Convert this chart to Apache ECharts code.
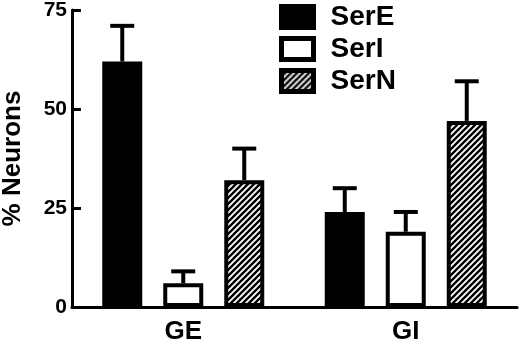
<!DOCTYPE html>
<html>
<head>
<meta charset="utf-8">
<script src="https://cdn.jsdelivr.net/npm/echarts@6/dist/echarts.min.js"></script>
<style>
html,body{margin:0;padding:0;background:#fff;}
#chart{width:520px;height:343px;}
</style>
</head>
<body>
<div id="chart"></div>
<script>
const categories = ['GE', 'GI'];
const seriesNames = ['SerE', 'SerI', 'SerN'];
const serE = [62, 24];
const serI = [6, 19];
const serN = [32, 47];
const serEErr = [71, 30];
const serIErr = [9, 24];
const serNErr = [40, 57];
const yTicks = [0, 25, 50, 75];

const FONT = 'Liberation Sans, Arial, sans-serif';
const BAR_W = 40;
const GAP = 21;

function hatch() {
  const s = 6;
  const c = document.createElement('canvas');
  c.width = s; c.height = s;
  const ctx = c.getContext('2d');
  ctx.fillStyle = '#fff';
  ctx.fillRect(0, 0, s, s);
  ctx.strokeStyle = '#000';
  ctx.lineWidth = 2.4;
  ctx.beginPath();
  ctx.moveTo(-1, s + 1); ctx.lineTo(s + 1, -1);
  ctx.moveTo(-2, 2); ctx.lineTo(2, -2);
  ctx.moveTo(s - 2, s + 2); ctx.lineTo(s + 2, s - 2);
  ctx.stroke();
  return c;
}
const hatchFill = { image: hatch(), repeat: 'repeat' };

const values = [serE, serI, serN];
const errs = [serEErr, serIErr, serNErr];
const fills = ['#000', '#fff', hatchFill];

const series = [];
values.forEach((v, i) => {
  series.push({
    name: seriesNames[i],
    type: 'bar',
    data: v,
    barWidth: BAR_W,
    barGap: (GAP / BAR_W * 100).toFixed(1) + '%',
    z: 3,
    itemStyle: { color: fills[i], borderColor: '#000', borderWidth: 4 },
    emphasis: { disabled: true }
  });
});
errs.forEach((e, i) => {
  series.push({
    name: seriesNames[i] + ' err',
    type: 'custom',
    z: 2,
    silent: true,
    data: categories.map((c, k) => [k, values[i][k], e[k]]),
    renderItem: function (params, api) {
      const off = (i - 1) * (BAR_W + GAP);
      const base = api.coord([api.value(0), api.value(1)]);
      const top = api.coord([api.value(0), api.value(2)]);
      const x = base[0] + off;
      return {
        type: 'group',
        children: [
          { type: 'line', shape: { x1: x, y1: base[1], x2: x, y2: top[1] }, style: { stroke: '#000', lineWidth: 4 } },
          { type: 'line', shape: { x1: x - 12, y1: top[1], x2: x + 12, y2: top[1] }, style: { stroke: '#000', lineWidth: 4 } }
        ]
      };
    }
  });
});

const chart = echarts.init(document.getElementById('chart'), null, { renderer: 'canvas' });
chart.setOption({
  animation: false,
  backgroundColor: '#fff',
  grid: { left: 72, right: 3, top: 10, bottom: 36, containLabel: false, outerBoundsMode: 'none' },
  legend: {
    data: seriesNames,
    orient: 'vertical',
    left: 274,
    top: -2,
    itemWidth: 32,
    itemHeight: 21,
    itemGap: 4,
    icon: 'rect',
    selectedMode: false,
    itemStyle: { borderColor: '#000', borderWidth: 5 },
    textStyle: { fontFamily: FONT, fontWeight: 'bold', fontSize: 28, color: '#000', padding: [0, 0, 0, 12], lineHeight: 24 }
  },
  xAxis: {
    type: 'category',
    data: categories,
    axisLine: { lineStyle: { color: '#000', width: 3 } },
    axisTick: { show: false },
    axisLabel: { fontFamily: FONT, fontWeight: 'bold', fontSize: 26, color: '#000', margin: 12 }
  },
  yAxis: {
    type: 'value',
    min: 0,
    max: 75,
    interval: 25,
    name: '% Neurons',
    nameLocation: 'middle',
    nameGap: 46,
    nameTextStyle: { fontFamily: FONT, fontWeight: 'bold', fontSize: 26, color: '#000' },
    axisLine: { show: true, lineStyle: { color: '#000', width: 3 } },
    axisTick: { show: true, inside: true, length: 9, lineStyle: { color: '#000', width: 3 } },
    splitLine: { show: false },
    axisLabel: {
      fontFamily: FONT, fontWeight: 'bold', fontSize: 21, color: '#000', margin: 5,
      formatter: v => yTicks.includes(v) ? String(v) : ''
    }
  },
  series: series
});
</script>
</body>
</html>
